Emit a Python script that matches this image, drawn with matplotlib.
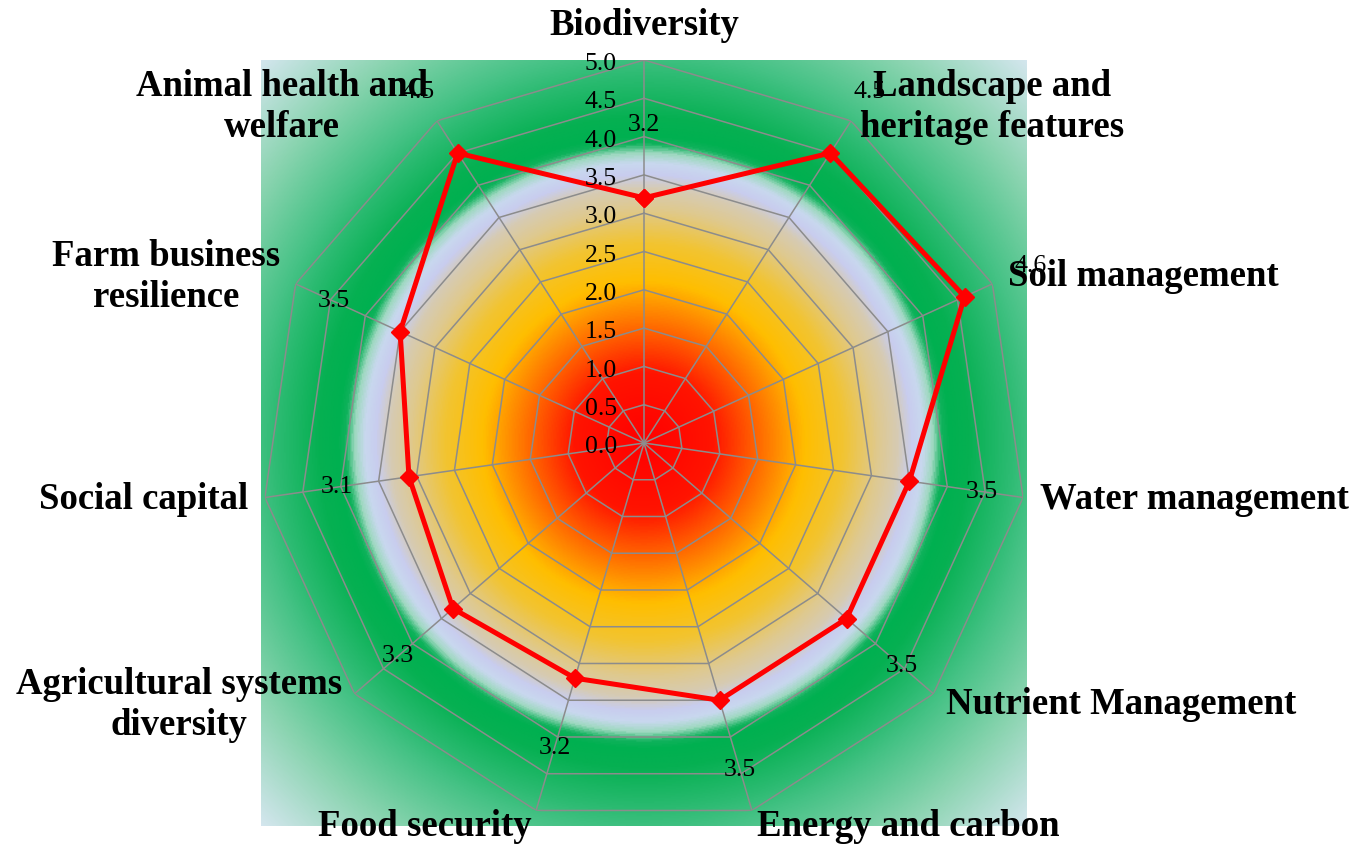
import numpy as np
import matplotlib
matplotlib.use("Agg")
import matplotlib.pyplot as plt
from matplotlib.colors import LinearSegmentedColormap

# данные
categories = ["Biodiversity", "Landscape and\nheritage features", "Soil management",
              "Water management", "Nutrient Management", "Energy and carbon",
              "Food security", "Agricultural systems\ndiversity", "Social capital",
              "Farm business\nresilience", "Animal health and\nwelfare"]
scores = [3.2, 4.5, 4.6, 3.5, 3.5, 3.5, 3.2, 3.3, 3.1, 3.5, 4.5]
ring_levels = [0.0, 0.5, 1.0, 1.5, 2.0, 2.5, 3.0, 3.5, 4.0, 4.5, 5.0]
r_max = 5.0

# радиальная заливка фона (радиус в единицах шкалы -> цвет)
grad_r = [0.0, 0.9, 1.5, 2.1, 2.6, 3.05, 3.32, 3.5, 3.65, 3.78, 3.9, 4.0, 4.25,
          4.8, 5.1, 6.0, 7.08]
grad_colors = ["#ff0000", "#ff1400", "#ff6a00", "#ffbe00", "#f2c431", "#dfc98e",
               "#d6cbb4", "#c8cdef", "#c8d8ee", "#9ed8c0", "#10b25c", "#00b050",
               "#06b052", "#2cbb72", "#45c285", "#8ad4b0", "#d4e6ee"]

plt.rcParams['font.family'] = ['Liberation Serif', 'DejaVu Serif']

fig = plt.figure(figsize=(13.7, 8.46), dpi=100)
pos = [261 / 1370, 20 / 846, 766 / 1370, 766 / 846]

# фон-градиент
bg = fig.add_axes(pos)
cmap = LinearSegmentedColormap.from_list(
    "radar_bg", list(zip(np.array(grad_r) / grad_r[-1], grad_colors)))
xx, yy = np.meshgrid(np.linspace(-r_max, r_max, 600), np.linspace(-r_max, r_max, 600))
dist = np.sqrt(xx ** 2 + yy ** 2)
bg.imshow(dist, cmap=cmap, vmin=0, vmax=grad_r[-1], extent=[-r_max, r_max, -r_max, r_max],
          origin='lower', aspect='auto', interpolation='bilinear')
bg.set_xlim(-r_max, r_max)
bg.set_ylim(-r_max, r_max)
bg.axis('off')

# радар
ax = fig.add_axes(pos, projection='polar')
ax.set_facecolor('none')
ax.set_theta_zero_location('N')
ax.set_theta_direction(-1)
ax.set_ylim(0, r_max)
ax.grid(False)
ax.spines['polar'].set_visible(False)
ax.set_xticks([])
ax.set_yticks([])

n = len(categories)
angles = np.linspace(0, 2 * np.pi, n, endpoint=False)
closed = np.append(angles, angles[0])

grid_col = '#8c8c8c'
for lv in ring_levels[1:]:
    ax.plot(closed, [lv] * (n + 1), color=grid_col, lw=1.1, zorder=2)
for a in angles:
    ax.plot([a, a], [0, r_max], color=grid_col, lw=1.1, zorder=2)

# подписи шкалы
for lv in ring_levels:
    ax.annotate(f"{lv:.1f}", xy=(0, lv), xytext=(-19.5, -3), textcoords='offset points',
                ha='right', va='center', fontsize=18.5, zorder=5)

# линия значений
vals = scores + scores[:1]
ax.plot(closed, vals, color='#ff0000', lw=3.6, marker='D', ms=9.5, mec='#ff0000',
        zorder=4, clip_on=False)

# подписи данных
for a, v in zip(angles, scores):
    ax.text(a, v + 0.95, f"{v:.1f}", ha='center', va='center', fontsize=18.5, zorder=5)

# подписи категорий
for a, lab in zip(angles, categories):
    s = np.sin(a)
    if abs(s) < 0.1:
        ha, va = 'center', 'bottom'
    else:
        ha = 'left' if s > 0 else 'right'
        va = 'center'
    ax.text(a, 5.22, lab, ha=ha, va=va, fontsize=26.5, fontweight='bold',
            multialignment='center', linespacing=1.22, zorder=6)

fig.savefig("out.png", dpi=100)
